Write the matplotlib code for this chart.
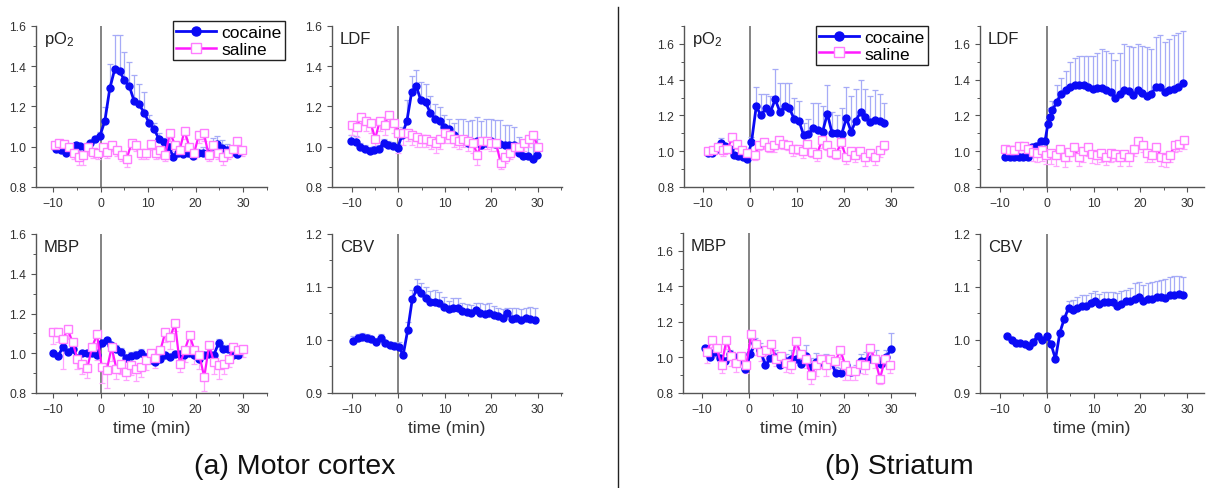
import numpy as np
import matplotlib.pyplot as plt
from matplotlib.lines import Line2D
from matplotlib.ticker import MultipleLocator, FormatStrFormatter

plt.rcParams['font.family'] = ['Liberation Sans', 'DejaVu Sans']
plt.rcParams['mathtext.default'] = 'regular'

BLUE = '#0a0af5'
BLUE_ERR = '#a6abf7'
PINK = '#ff1aff'
PINK_EDGE = '#ff7dff'
PINK_ERR = '#ffa3ff'

# ---------------- (a) Motor cortex ----------------
# pO2
t_a_po2_c = np.linspace(-9.4, 28.7, 38)
a_po2_c = [0.99, 0.985, 0.97, 1.00, 1.01, 1.005, 1.00, 1.02, 1.04, 1.055,
           1.13, 1.29, 1.385, 1.375, 1.33, 1.30, 1.225, 1.21, 1.17, 1.12,
           1.09, 1.04, 1.025, 1.00, 0.95, 0.97, 0.965, 0.97, 0.955, 0.97,
           0.97, 0.965, 1.005, 1.015, 0.995, 0.985, 0.975, 0.965]
a_po2_c_err = [0.01, 0.01, 0.01, 0.01, 0.01, 0.01, 0.01, 0.01, 0.015, 0.02,
               0.07, 0.12, 0.17, 0.18, 0.14, 0.12, 0.13, 0.10, 0.10, 0.04,
               0.03, 0.03, 0.02, 0.02, 0.02, 0.02, 0.02, 0.02, 0.02, 0.02,
               0.03, 0.03, 0.04, 0.04, 0.04, 0.03, 0.03, 0.02]
t_a_po2_s = np.linspace(-9.7, 29.8, 40)
a_po2_s = [1.01, 1.02, 1.015, 1.00, 0.97, 0.95, 0.96, 1.00, 0.975, 0.97,
           1.00, 0.975, 1.01, 0.985, 0.96, 0.94, 1.02, 1.01, 0.97, 0.97,
           1.015, 0.97, 0.985, 0.96, 1.07, 1.01, 0.985, 1.08, 1.00, 0.97,
           1.06, 1.07, 0.96, 1.01, 0.97, 0.95, 0.97, 0.99, 1.03, 0.985]
a_po2_s_err = [0.02, 0.03, 0.02, 0.03, 0.03, 0.04, 0.05, 0.04, 0.03, 0.03,
               0.03, 0.03, 0.03, 0.03, 0.03, 0.04, 0.03, 0.03, 0.03, 0.03,
               0.03, 0.03, 0.04, 0.03, 0.04, 0.03, 0.03, 0.04, 0.03, 0.03,
               0.04, 0.04, 0.03, 0.03, 0.03, 0.04, 0.03, 0.03, 0.03, 0.03]

# LDF
t_a_ldf_c = np.linspace(-10.2, 29.9, 41)
a_ldf_c = [1.03, 1.025, 1.00, 0.99, 0.98, 0.985, 0.99, 1.02, 1.01, 1.005,
           0.995, 1.06, 1.13, 1.27, 1.30, 1.23, 1.22, 1.17, 1.14, 1.13,
           1.10, 1.09, 1.06, 1.04, 1.04, 1.02, 1.025, 1.03, 1.01, 1.02,
           1.03, 1.015, 1.015, 1.01, 1.01, 1.01, 0.97, 0.955, 0.955, 0.94,
           0.96]
a_ldf_c_err = [0.03, 0.03, 0.02, 0.02, 0.02, 0.02, 0.02, 0.02, 0.02, 0.02,
               0.02, 0.04, 0.10, 0.08, 0.08, 0.09, 0.09, 0.08, 0.07, 0.07,
               0.06, 0.05, 0.06, 0.10, 0.10, 0.11, 0.11, 0.12, 0.12, 0.12,
               0.11, 0.12, 0.12, 0.10, 0.10, 0.09, 0.08, 0.07, 0.08, 0.10,
               0.08]
t_a_ldf_s = np.linspace(-10, 30, 41)
a_ldf_s = [1.11, 1.10, 1.15, 1.13, 1.12, 1.04, 1.13, 1.11, 1.16, 1.12,
           1.07, 1.07, 1.07, 1.06, 1.05, 1.04, 1.04, 1.03, 1.02, 1.04,
           1.07, 1.06, 1.04, 1.03, 1.04, 1.03, 1.02, 0.96, 1.03, 1.03,
           1.02, 1.02, 0.92, 0.95, 0.97, 1.00, 1.00, 1.02, 1.04, 1.06,
           1.00]
a_ldf_s_err = [0.05, 0.05, 0.04, 0.05, 0.05, 0.05, 0.05, 0.05, 0.05, 0.05,
               0.10, 0.06, 0.04, 0.05, 0.05, 0.04, 0.04, 0.04, 0.05, 0.05,
               0.05, 0.04, 0.04, 0.04, 0.04, 0.05, 0.05, 0.05, 0.04, 0.04,
               0.04, 0.04, 0.03, 0.03, 0.03, 0.04, 0.04, 0.04, 0.04, 0.04,
               0.04]

# MBP
t_a_mbp_c = np.linspace(-10, 28.9, 39)
a_mbp_c = [1.00, 0.985, 1.03, 1.005, 1.02, 0.975, 1.00, 1.00, 1.00, 0.99,
           1.05, 1.065, 1.04, 1.02, 1.005, 0.975, 0.985, 0.99, 1.00, 0.98,
           0.965, 0.955, 0.97, 0.99, 0.98, 0.995, 0.995, 0.99, 1.00, 0.99,
           0.97, 0.99, 0.995, 0.99, 1.05, 1.02, 1.02, 0.99, 0.99]
a_mbp_c_err = [0.01, 0.01, 0.02, 0.01, 0.01, 0.01, 0.01, 0.01, 0.01, 0.01,
               0.01, 0.01, 0.01, 0.02, 0.02, 0.02, 0.02, 0.02, 0.02, 0.02,
               0.01, 0.01, 0.01, 0.01, 0.01, 0.01, 0.01, 0.01, 0.01, 0.01,
               0.01, 0.01, 0.01, 0.01, 0.02, 0.02, 0.02, 0.02, 0.02]
t_a_mbp_s = np.linspace(-10, 30, 40)
a_mbp_s = [1.105, 1.105, 1.07, 1.12, 1.055, 0.97, 0.945, 0.925, 1.03, 1.095,
           0.93, 0.915, 1.03, 0.92, 0.945, 0.905, 0.94, 0.92, 0.93, 0.965,
           1.00, 0.975, 1.015, 1.105, 1.08, 1.15, 0.945, 1.015, 1.09, 1.015,
           0.99, 0.88, 1.04, 0.955, 0.94, 0.945, 0.97, 1.03, 1.015, 1.02]
a_mbp_s_err = [0.06, 0.05, 0.15, 0.05, 0.05, 0.05, 0.05, 0.05, 0.04, 0.13,
               0.08, 0.09, 0.07, 0.05, 0.05, 0.04, 0.05, 0.06, 0.05, 0.05,
               0.05, 0.05, 0.06, 0.05, 0.06, 0.04, 0.04, 0.06, 0.06, 0.07,
               0.07, 0.07, 0.06, 0.06, 0.07, 0.05, 0.04, 0.04, 0.04, 0.04]

# CBV
t_a_cbv_c = np.linspace(-9.7, 29.3, 41)
a_cbv_c = [0.999, 1.003, 1.005, 1.004, 1.001, 0.996, 1.004, 0.994, 0.991, 0.989,
           0.987, 0.972, 1.019, 1.077, 1.096, 1.089, 1.080, 1.072, 1.072, 1.070,
           1.063, 1.058, 1.061, 1.061, 1.055, 1.053, 1.051, 1.057, 1.051, 1.049,
           1.051, 1.047, 1.045, 1.041, 1.050, 1.040, 1.041, 1.038, 1.041, 1.040,
           1.038]
a_cbv_c_err = [0.008, 0.008, 0.009, 0.008, 0.006, 0.008, 0.008, 0.006, 0.006, 0.008,
               0.010, 0.006, 0.015, 0.018, 0.020, 0.018, 0.020, 0.020, 0.022, 0.020,
               0.018, 0.015, 0.018, 0.018, 0.015, 0.015, 0.015, 0.012, 0.018, 0.018,
               0.018, 0.018, 0.015, 0.018, 0.010, 0.020, 0.020, 0.020, 0.020, 0.022,
               0.022]

# ---------------- (b) Striatum ----------------
# pO2
t_b_po2_c = np.r_[np.linspace(-8.9, -0.6, 10), np.linspace(0.35, 28.6, 29)]
b_po2_c = [0.99, 0.99, 1.01, 1.045, 1.03, 1.01, 0.98, 0.975, 0.965, 0.955,
           1.05, 1.25, 1.20, 1.24, 1.22, 1.29, 1.22, 1.25, 1.24, 1.18,
           1.17, 1.09, 1.095, 1.13, 1.12, 1.11, 1.21, 1.10, 1.10, 1.095,
           1.185, 1.11, 1.17, 1.22, 1.19, 1.165, 1.175, 1.17, 1.16]
b_po2_c_err = [0.01, 0.01, 0.01, 0.03, 0.01, 0.01, 0.01, 0.01, 0.01, 0.01,
               0.03, 0.11, 0.12, 0.08, 0.09, 0.17, 0.16, 0.13, 0.14, 0.12,
               0.11, 0.07, 0.085, 0.14, 0.15, 0.14, 0.16, 0.12, 0.10, 0.145,
               0.175, 0.20, 0.18, 0.18, 0.16, 0.145, 0.165, 0.15, 0.11]
t_b_po2_s = np.r_[np.linspace(-8.9, -0.6, 9), np.linspace(1.0, 28.6, 28)]
b_po2_s = [1.00, 1.005, 1.025, 1.005, 1.01, 1.08, 1.04, 1.005, 0.99,
           0.98, 1.035, 1.05, 1.025, 1.035, 1.06, 1.04, 1.035, 1.015, 1.015,
           1.00, 1.04, 0.995, 0.985, 1.06, 1.035, 0.995, 0.985, 1.05, 0.97,
           1.00, 0.98, 1.00, 0.97, 0.99, 0.965, 1.005, 1.035]
b_po2_s_err = [0.02, 0.02, 0.03, 0.03, 0.02, 0.03, 0.03, 0.03, 0.03,
               0.03, 0.03, 0.04, 0.03, 0.04, 0.04, 0.03, 0.03, 0.04, 0.03,
               0.04, 0.04, 0.03, 0.04, 0.04, 0.03, 0.03, 0.03, 0.03, 0.04,
               0.04, 0.04, 0.04, 0.05, 0.04, 0.04, 0.04, 0.03]

# LDF
t_b_ldf_c = np.r_[np.linspace(-8.9, -4.1, 6), np.linspace(-3.2, -0.4, 4),
                  np.linspace(0.2, 1.2, 3), np.linspace(2.1, 29.1, 29)]
b_ldf_c = [0.97, 0.97, 0.97, 0.97, 0.97, 0.965,
           1.025, 1.03, 1.055, 1.055,
           1.15, 1.19, 1.23,
           1.275, 1.32, 1.34, 1.36, 1.37, 1.37, 1.37, 1.36, 1.35, 1.355,
           1.355, 1.34, 1.33, 1.30, 1.32, 1.345, 1.335, 1.315, 1.34, 1.325,
           1.31, 1.32, 1.36, 1.36, 1.33, 1.34, 1.35, 1.36, 1.38]
b_ldf_c_err = [0.01, 0.01, 0.01, 0.01, 0.01, 0.01,
               0.01, 0.01, 0.015, 0.015,
               0.03, 0.05, 0.05,
               0.095, 0.09, 0.11, 0.14, 0.15, 0.16, 0.16, 0.17, 0.18, 0.195,
               0.215, 0.22, 0.22, 0.21, 0.23, 0.255, 0.255, 0.265, 0.26, 0.265,
               0.27, 0.25, 0.28, 0.29, 0.28, 0.29, 0.30, 0.30, 0.29]
t_b_ldf_s = np.linspace(-8.9, 29.3, 40)
b_ldf_s = [1.01, 1.005, 1.005, 1.03, 1.03, 1.015, 0.995, 0.99, 1.005, 0.98,
           0.99, 0.98, 1.015, 0.97, 0.995, 1.025, 0.965, 1.00, 1.025, 0.985,
           0.98, 0.99, 0.965, 0.99, 0.985, 0.965, 0.985, 0.97, 1.015, 1.055,
           1.035, 0.99, 0.98, 1.025, 0.97, 0.96, 0.98, 1.035, 1.04, 1.065]
b_ldf_s_err = [0.03, 0.04, 0.04, 0.04, 0.04, 0.05, 0.05, 0.05, 0.06, 0.05,
               0.06, 0.06, 0.05, 0.06, 0.05, 0.05, 0.05, 0.06, 0.05, 0.05,
               0.05, 0.05, 0.04, 0.05, 0.04, 0.05, 0.04, 0.05, 0.04, 0.04,
               0.04, 0.05, 0.04, 0.05, 0.05, 0.05, 0.04, 0.04, 0.04, 0.05]

# MBP
t_b_mbp_c = np.linspace(-9.3, 29.9, 38)
b_mbp_c = [1.055, 1.005, 1.03, 0.995, 0.98, 1.02, 1.005, 0.99, 0.935, 1.02,
           1.08, 1.04, 0.955, 0.995, 1.00, 0.955, 0.98, 0.99, 0.99, 0.965,
           1.01, 0.945, 0.975, 0.975, 0.98, 0.98, 0.915, 0.91, 0.955, 0.92,
           0.925, 0.98, 0.98, 0.99, 0.99, 0.965, 1.00, 1.045]
b_mbp_c_err = [0.01, 0.01, 0.02, 0.01, 0.01, 0.02, 0.01, 0.01, 0.01, 0.03,
               0.03, 0.04, 0.03, 0.03, 0.04, 0.05, 0.04, 0.05, 0.07, 0.04,
               0.06, 0.05, 0.05, 0.04, 0.04, 0.03, 0.03, 0.03, 0.02, 0.02,
               0.03, 0.04, 0.05, 0.05, 0.05, 0.04, 0.04, 0.09]
t_b_mbp_s = np.linspace(-9.0, 29.7, 38)
b_mbp_s = [1.03, 1.10, 1.055, 0.955, 1.10, 1.01, 0.97, 1.01, 0.955, 1.13,
           1.075, 1.03, 1.04, 1.075, 0.99, 1.01, 0.97, 0.955, 1.095, 1.02,
           0.99, 0.90, 0.955, 0.99, 0.955, 0.99, 0.98, 1.04, 0.955, 0.925,
           0.925, 0.965, 0.955, 1.055, 0.99, 0.88, 0.99, 0.955]
b_mbp_s_err = [0.06, 0.04, 0.05, 0.04, 0.05, 0.06, 0.05, 0.05, 0.04, 0.05,
               0.06, 0.05, 0.05, 0.05, 0.04, 0.05, 0.05, 0.04, 0.05, 0.05,
               0.05, 0.05, 0.06, 0.05, 0.06, 0.05, 0.05, 0.05, 0.08, 0.05,
               0.05, 0.05, 0.05, 0.05, 0.05, 0.03, 0.04, 0.04]

# CBV
t_b_cbv_c = np.linspace(-8.5, 29.1, 41)
b_cbv_c = [1.007, 1.000, 0.994, 0.994, 0.992, 0.989, 0.997, 1.008, 1.000, 1.007,
           0.992, 0.964, 1.014, 1.040, 1.061, 1.057, 1.061, 1.064, 1.065, 1.069,
           1.074, 1.067, 1.071, 1.071, 1.071, 1.064, 1.067, 1.074, 1.074, 1.078,
           1.082, 1.074, 1.078, 1.078, 1.082, 1.082, 1.080, 1.084, 1.084, 1.086,
           1.084]
b_cbv_c_err = [0.003, 0.003, 0.003, 0.003, 0.003, 0.003, 0.003, 0.003, 0.003, 0.003,
               0.003, 0.003, 0.005, 0.008, 0.012, 0.018, 0.020, 0.020, 0.020, 0.020,
               0.018, 0.020, 0.020, 0.020, 0.020, 0.025, 0.025, 0.020, 0.025, 0.030,
               0.028, 0.030, 0.030, 0.032, 0.030, 0.032, 0.035, 0.035, 0.036, 0.035,
               0.035]

W, H = 1206, 489
fig = plt.figure(figsize=(W / 100, H / 100), dpi=100)


def box(l, r, t, b):
    return [l / W, 1 - b / H, (r - l) / W, (b - t) / H]


def panel(rect, xlim, ylim, ystep, name, coc, sal=None, xlabel=False):
    ax = fig.add_axes(box(*rect))
    ax.set_xlim(xlim)
    ax.set_ylim(ylim)
    ax.axvline(0, color='#7a7a7a', lw=1.3, zorder=1)
    t, y, e = coc
    e = np.array(e)
    ax.errorbar(t, y, yerr=[np.zeros(len(e)), e], fmt='none', ecolor=BLUE_ERR,
                elinewidth=0.9, capsize=2.2, capthick=0.9, zorder=2)
    if sal is not None:
        t2, y2, e2 = sal
        e2 = np.array(e2)
        ax.errorbar(t2, y2, yerr=[e2, np.zeros(len(e2))], fmt='none', ecolor=PINK_ERR,
                    elinewidth=0.9, capsize=2.2, capthick=0.9, zorder=2)
    ax.plot(t, y, '-o', color=BLUE, lw=2.0, ms=5, zorder=4)
    if sal is not None:
        ax.plot(t2, y2, '-s', color=PINK, lw=1.6, ms=5.5, mfc='white',
                mec=PINK_EDGE, mew=1.0, zorder=5)
    for s in ['top', 'right']:
        ax.spines[s].set_visible(False)
    for s in ['left', 'bottom']:
        ax.spines[s].set_color('#555555')
        ax.spines[s].set_linewidth(1.0)
    ax.xaxis.set_major_locator(MultipleLocator(10))
    ax.xaxis.set_minor_locator(MultipleLocator(5))
    ax.yaxis.set_major_locator(MultipleLocator(ystep))
    ax.yaxis.set_minor_locator(MultipleLocator(ystep / 2))
    ax.yaxis.set_major_formatter(FormatStrFormatter('%.1f'))
    ax.tick_params(which='major', direction='out', length=3.5, width=0.8,
                   color='#555555', labelcolor='#333333', labelsize=8.7)
    ax.tick_params(which='minor', direction='out', length=2, width=0.7, color='#555555')
    ax.text(0.035, 0.92, name, transform=ax.transAxes, fontsize=12,
            color='#222222', va='center', ha='left')
    if xlabel:
        ax.set_xlabel('time (min)', fontsize=12.5, color='#333333', labelpad=4)
    return ax


ax1 = panel((36, 267, 27, 188), (-13.6, 35), (0.8, 1.6), 0.2, 'pO$_2$',
            (t_a_po2_c, a_po2_c, a_po2_c_err), (t_a_po2_s, a_po2_s, a_po2_s_err))
panel((332, 562, 27, 188), (-14.3, 35.2), (0.8, 1.6), 0.2, 'LDF',
      (t_a_ldf_c, a_ldf_c, a_ldf_c_err), (t_a_ldf_s, a_ldf_s, a_ldf_s_err))
panel((36, 267, 235, 394), (-13.6, 35), (0.8, 1.6), 0.2, 'MBP',
      (t_a_mbp_c, a_mbp_c, a_mbp_c_err), (t_a_mbp_s, a_mbp_s, a_mbp_s_err), xlabel=True)
panel((332, 562, 235, 394), (-14.3, 35.2), (0.9, 1.2), 0.1, 'CBV',
      (t_a_cbv_c, a_cbv_c, a_cbv_c_err), xlabel=True)

ax5 = panel((684, 913, 27, 188), (-14.0, 34.7), (0.8, 1.7), 0.2, 'pO$_2$',
            (t_b_po2_c, b_po2_c, b_po2_c_err), (t_b_po2_s, b_po2_s, b_po2_s_err))
panel((980, 1204, 27, 188), (-14.3, 33.6), (0.8, 1.7), 0.2, 'LDF',
      (t_b_ldf_c, b_ldf_c, b_ldf_c_err), (t_b_ldf_s, b_ldf_s, b_ldf_s_err))
panel((683, 915, 234, 394), (-14.0, 35.0), (0.8, 1.7), 0.2, 'MBP',
      (t_b_mbp_c, b_mbp_c, b_mbp_c_err), (t_b_mbp_s, b_mbp_s, b_mbp_s_err), xlabel=True)
panel((980, 1204, 235, 394), (-14.3, 33.6), (0.9, 1.2), 0.1, 'CBV',
      (t_b_cbv_c, b_cbv_c, b_cbv_c_err), xlabel=True)

handles = [Line2D([], [], color=BLUE, lw=2.0, marker='o', ms=6.5),
           Line2D([], [], color=PINK, lw=1.8, marker='s', ms=6.5, mfc='white', mec=PINK_EDGE)]
for ax, anchor in [(ax1, (0.593, 1.03)), (ax5, (0.576, 1.0))]:
    leg = ax.legend(handles, ['cocaine', 'saline'], loc='upper left', bbox_to_anchor=anchor,
                    fontsize=12.5, handlelength=2.3, handletextpad=0.3, borderpad=0.2,
                    labelspacing=0.1, fancybox=False, framealpha=1, edgecolor='#222222',
                    borderaxespad=0)
    leg.get_frame().set_linewidth(1.0)

fig.add_artist(Line2D([618 / W, 618 / W], [1 - 8 / H, 0], color='#222222', lw=1.0))
fig.text(295 / W, 1 - 467 / H, '(a) Motor cortex', fontsize=20.5, ha='center', va='center',
         color='#111111')
fig.text(899 / W, 1 - 467 / H, '(b) Striatum', fontsize=20.5, ha='center', va='center',
         color='#111111')

fig.savefig('out.png', dpi=100)
